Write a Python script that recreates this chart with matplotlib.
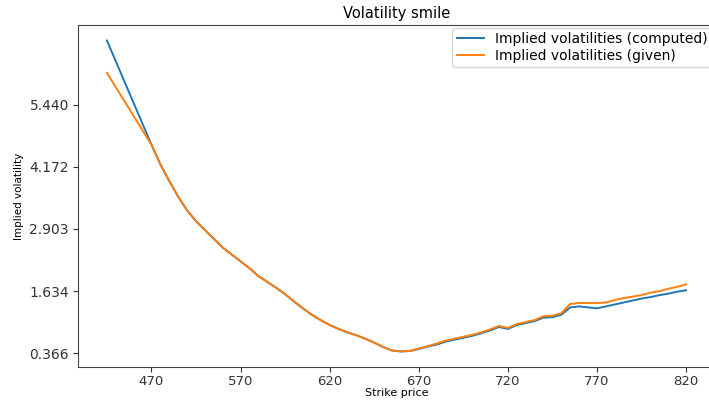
import numpy as np
import matplotlib
matplotlib.use("Agg")
from matplotlib import pyplot as plt

# strike grid: first quote at 495, then every 5 from 520 up to 820
strikes = [495] + list(range(520, 825, 5))

# implied vols computed from the model
iv_computed = [6.75,
               4.62, 4.22, 3.88, 3.56, 3.28, 3.06, 2.88, 2.70, 2.52, 2.38,
               2.24, 2.10, 1.94, 1.82, 1.70, 1.57, 1.42, 1.28, 1.15, 1.04,
               0.94, 0.86, 0.79, 0.73, 0.66, 0.58, 0.49, 0.42, 0.40, 0.41,
               0.45, 0.50, 0.54, 0.60, 0.64, 0.68, 0.72, 0.77, 0.83, 0.90,
               0.86, 0.94, 0.98, 1.02, 1.09, 1.10, 1.15, 1.30, 1.32, 1.30,
               1.28, 1.32, 1.36, 1.40, 1.44, 1.48, 1.51, 1.55, 1.58, 1.62,
               1.65]

# implied vols given in the data
iv_given = [6.09,
            4.62, 4.22, 3.88, 3.56, 3.28, 3.06, 2.88, 2.70, 2.52, 2.38,
            2.24, 2.10, 1.94, 1.82, 1.70, 1.57, 1.42, 1.28, 1.15, 1.04,
            0.94, 0.86, 0.79, 0.73, 0.66, 0.58, 0.49, 0.42, 0.40, 0.41,
            0.46, 0.51, 0.56, 0.62, 0.66, 0.70, 0.74, 0.79, 0.85, 0.92,
            0.88, 0.96, 1.00, 1.04, 1.12, 1.13, 1.18, 1.37, 1.39, 1.39,
            1.39, 1.40, 1.45, 1.49, 1.52, 1.55, 1.60, 1.63, 1.68, 1.72,
            1.77]

# tick positions / labels as they appear on the chart
xtick_pos = [520, 570, 620, 670, 720, 770, 820]
xtick_labels = ["470", "570", "620", "670", "720", "770", "820"]
ytick_vals = [0.366, 1.634, 2.903, 4.172, 5.440]

fig = plt.figure(figsize=(7.09, 4.0), dpi=100)
ax = fig.add_axes([0.110, 0.0825, 0.8985, 0.855])

ax.plot(strikes, iv_computed, label="Implied volatilities (computed)", lw=1.4)
ax.plot(strikes, iv_given, label="Implied volatilities (given)", lw=1.4)

ax.set_xticks(xtick_pos)
ax.set_xticklabels(xtick_labels)
ax.set_yticks(ytick_vals)
ax.set_yticklabels(["%.3f" % v for v in ytick_vals])
ax.tick_params(labelsize=10, colors="#333333", pad=3)
ax.tick_params(axis="x", labelsize=9.5, pad=2)
for s in ax.spines.values():
    s.set_color("#444444")

ax.set_title("Volatility smile", fontsize=10.5, pad=5)
ax.set_xlabel("Strike price", fontsize=8, labelpad=0)
ax.set_ylabel("Implied volatility", fontsize=7.5)
ax.legend(loc="upper right", fontsize=10, borderaxespad=0.2,
          labelspacing=0.2, borderpad=0.3)

fig.savefig("out.png", dpi=100)
